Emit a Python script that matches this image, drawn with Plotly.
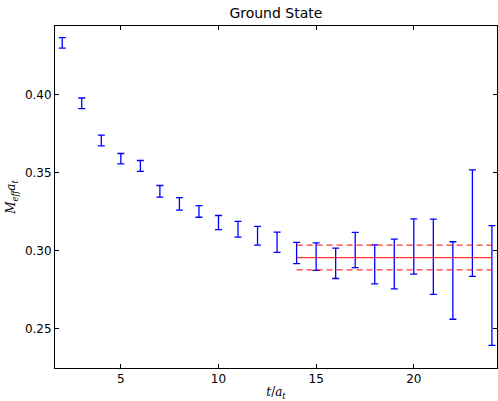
import plotly.graph_objects as go

# Effective mass per timeslice with jackknife errors
t_values = list(range(2, 25))
m_eff = [0.4331, 0.3944, 0.3706, 0.3590, 0.3543, 0.3381, 0.3300, 0.3252,
         0.3181, 0.3138, 0.3096, 0.3055, 0.2986, 0.2963, 0.2920, 0.3005,
         0.2913, 0.2916, 0.3028, 0.2962, 0.2810, 0.3177, 0.2778]
m_err = [0.0033, 0.0034, 0.0034, 0.0033, 0.0035, 0.0037, 0.0040, 0.0037,
         0.0045, 0.0050, 0.0060, 0.0065, 0.0068, 0.0088, 0.0097, 0.0113,
         0.0125, 0.0159, 0.0177, 0.0241, 0.0248, 0.0341, 0.0383]

# Constant fit over the plateau
fit_range = [14, 24]
fit_value = 0.2957
fit_err = 0.0079

x_ticks = [5, 10, 15, 20]
y_ticks = [0.25, 0.30, 0.35, 0.40]

fig = go.Figure()

fig.add_trace(go.Scatter(
    x=t_values, y=m_eff, mode="markers",
    marker=dict(size=1, color="rgba(0,0,0,0)"),
    error_y=dict(type="data", array=m_err, visible=True,
                 color="#0000ff", thickness=1.3, width=3.5),
    showlegend=False, hoverinfo="skip",
))

fig.add_trace(go.Scatter(
    x=fit_range, y=[fit_value, fit_value], mode="lines",
    line=dict(color="rgba(255,0,0,0.8)", width=1.2),
    showlegend=False,
))
for sign in (1, -1):
    band = fit_value + sign * fit_err
    fig.add_trace(go.Scatter(
        x=fit_range, y=[band, band], mode="lines",
        line=dict(color="rgba(255,0,0,0.8)", width=1.3, dash="6px,4px"),
        showlegend=False,
    ))

axis_common = dict(
    showline=True, linecolor="black", linewidth=1, mirror="ticks",
    ticks="inside", ticklen=4, tickcolor="black", tickwidth=1,
    showgrid=False, zeroline=False,
    tickfont=dict(family="DejaVu Sans", size=12, color="black"),
)

fig.update_layout(
    width=498, height=401,
    margin=dict(l=55, r=1, t=26, b=33),
    paper_bgcolor="white", plot_bgcolor="white",
    title=dict(text="Ground State", x=0.554, xanchor="center",
               y=1 - 13 / 401, yanchor="middle", yref="container",
               font=dict(family="DejaVu Sans", size=14, color="black")),
    xaxis=dict(range=[1.63, 24.26], tickvals=x_ticks,
               title=dict(text="<i>t</i>/<i>a</i><sub><i>t</i></sub>",
                          font=dict(family="DejaVu Serif", size=12, color="black"),
                          standoff=4),
               **axis_common),
    yaxis=dict(range=[0.225, 0.4439], tickvals=y_ticks, tickformat=".2f",
               title=dict(text="<i>M</i><sub><i>eff</i></sub><i>a</i><sub><i>t</i></sub>",
                          font=dict(family="DejaVu Serif", size=12, color="black"),
                          standoff=6),
               **axis_common),
)

fig.write_html("out.html")
